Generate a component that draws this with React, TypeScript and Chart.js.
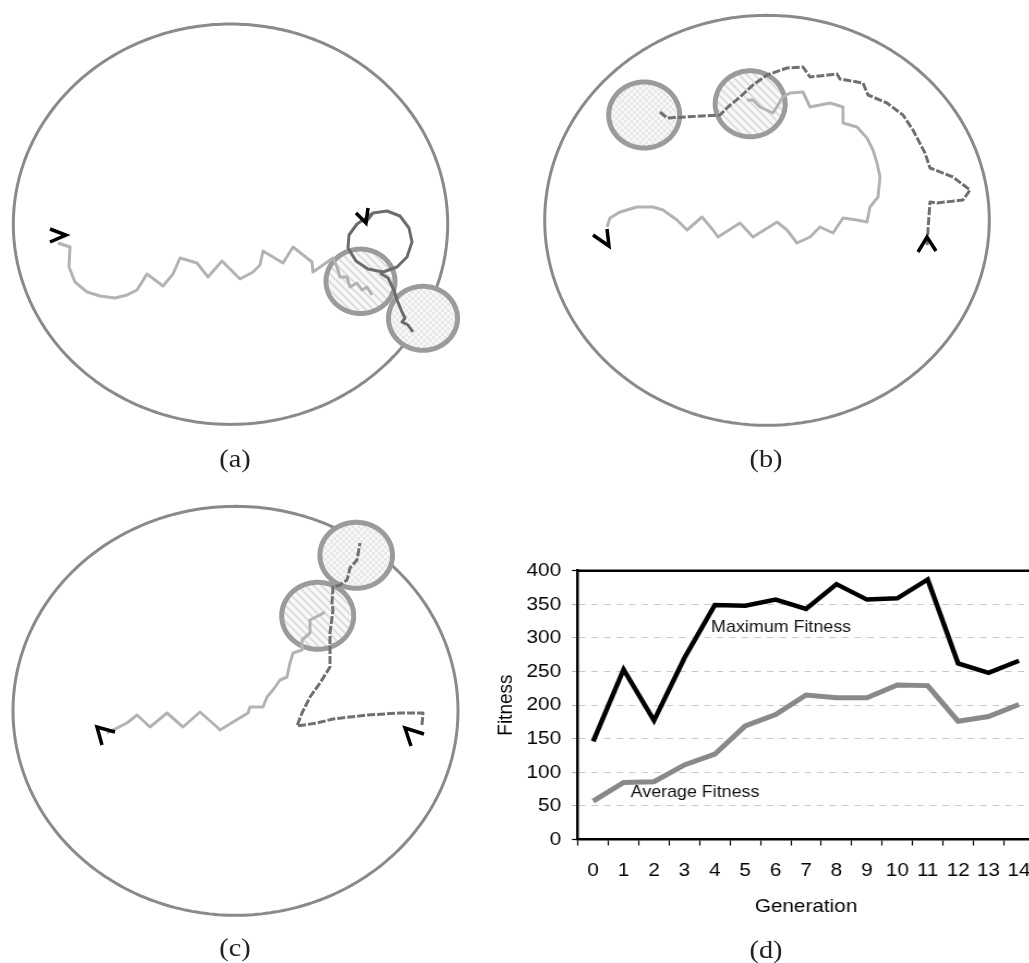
import React, { useEffect, useRef } from "react";
import { Chart, registerables } from "chart.js";

Chart.register(...registerables);

// ---------- Panel (d): fitness chart data ----------
const generations = ["0", "1", "2", "3", "4", "5", "6", "7", "8", "9", "10", "11", "12", "13", "14"];
const maxFitness = [146, 253, 177, 270, 349, 348, 357, 343, 380, 357, 359, 387, 262, 248, 266];
const avgFitness = [57, 85, 86, 111, 127, 169, 186, 215, 211, 211, 230, 229, 176, 183, 201];
const yMin = 0;
const yMax = 400;
const yStep = 50;
const seriesLabels = ["Maximum Fitness", "Average Fitness"];
const seriesLabelX = [6.18, 3.35];
const seriesLabelY = [315, 70];

// ---------- Panels (a)-(c): arena drawings (page coordinates) ----------
type Pt = [number, number];
// ellipse: [cx, cy, rx, ry]
const arenaA = [230.5, 224.2, 217.2, 200.2];
const arenaB = [767, 220.3, 222.3, 205];
const arenaC = [235.5, 710.8, 222.5, 204.5];

const hatchGoals = [
  [360.5, 281.3, 34.5, 32.2],
  [750.2, 103.8, 35, 33],
  [317.7, 615.8, 36, 33.5],
];
const checkGoals = [
  [423, 318.3, 34.5, 32],
  [644.2, 115, 35.5, 33],
  [356.2, 555.3, 36.3, 33],
];

const pathALight: Pt[] = [
  [58, 243], [70, 247], [69, 267], [75, 282], [87, 292], [100, 296], [115, 298], [127, 295],
  [137, 290], [147, 274], [163, 286], [173, 274], [180, 258], [197, 263], [208, 277], [222, 261],
  [240, 279], [253, 272], [260, 265], [263, 251], [283, 263], [293, 247], [312, 262], [313, 272],
  [333, 258], [337, 267], [340, 277], [347, 277], [350, 287], [357, 283], [362, 290], [367, 287], [372, 295],
];
const pathADarkLoop: Pt[] = [
  [366, 222], [373, 213], [387, 211], [400, 216], [409, 228], [412, 242], [407, 257], [397, 267],
  [383, 272], [368, 269], [356, 261], [348, 248], [349, 235], [357, 224], [366, 218], [373, 213],
];
const pathADarkExit: Pt[] = [
  [380, 273], [388, 278], [394, 290], [397, 300], [402, 312], [405, 318], [402, 322], [408, 325], [413, 332],
];

const pathBLight: Pt[] = [
  [607, 227], [610, 218], [620, 212], [637, 207], [653, 207], [663, 210], [677, 220], [687, 230],
  [702, 217], [713, 230], [718, 237], [740, 223], [753, 237], [777, 222], [787, 230], [797, 243],
  [810, 237], [820, 227], [833, 233], [843, 218], [857, 220], [867, 222], [870, 207], [878, 197],
  [880, 177], [877, 163], [873, 150], [867, 138], [857, 127], [843, 123], [843, 107], [830, 103],
  [810, 107], [803, 92], [790, 93], [783, 97], [773, 113], [760, 107], [753, 100], [747, 100],
];
const pathBDark: Pt[] = [
  [660, 112], [667, 118], [720, 115], [728, 107], [740, 97], [753, 85], [767, 75], [787, 68],
  [803, 67], [810, 77], [837, 74], [840, 79], [863, 83], [868, 95], [887, 103], [903, 115],
  [913, 130], [925, 153], [930, 168], [953, 177], [970, 190], [963, 200], [937, 203], [930, 202],
  [928, 230], [927, 247],
];

const pathCLight: Pt[] = [
  [107, 733], [117, 728], [127, 723], [137, 715], [150, 727], [167, 713], [183, 727], [200, 712],
  [217, 727], [220, 730], [233, 722], [248, 713], [250, 707], [263, 707], [267, 697], [273, 690],
  [280, 680], [287, 677], [290, 663], [293, 653], [302, 650], [302, 640], [310, 633], [310, 620],
  [320, 615], [325, 612],
];
const pathCDark: Pt[] = [
  [422, 725], [423, 713], [400, 713], [367, 715], [333, 719], [317, 723], [297, 726], [302, 713],
  [310, 697], [320, 683], [330, 667], [330, 633], [333, 610], [332, 603], [333, 587], [340, 585],
  [347, 580], [350, 568], [357, 560], [360, 543],
];

const markers: Pt[][] = [
  [[50, 229], [66, 235], [50, 242]],
  [[356, 213], [366, 223], [368, 208]],
  [[593, 235], [609, 246], [607, 229]],
  [[918, 252], [927, 237], [936, 251]],
  [[115, 732], [97, 727], [102, 745]],
  [[424, 734], [405, 728], [411, 746]],
];

const captions = ["(a)", "(b)", "(c)", "(d)"];
const captionX = [235, 766, 235, 766];
const captionY = [459, 459, 948, 950];

// ---------- helpers ----------
const toXY = (pts: Pt[]) => pts.map(([x, y]) => ({ x, y }));
function ellipse(e: number[], n = 160) {
  const [cx, cy, rx, ry] = e;
  const out: { x: number; y: number }[] = [];
  for (let i = 0; i <= n; i++) {
    const t = (i / n) * Math.PI * 2;
    out.push({ x: cx + rx * Math.cos(t), y: cy + ry * Math.sin(t) });
  }
  return out;
}
function makeHatch(): CanvasPattern | string {
  const c = document.createElement("canvas");
  c.width = 8;
  c.height = 8;
  const g = c.getContext("2d");
  if (!g) return "#f0f0f0";
  g.fillStyle = "#f8f8f8";
  g.fillRect(0, 0, 8, 8);
  g.strokeStyle = "#dedede";
  g.lineWidth = 2;
  g.beginPath();
  g.moveTo(-2, -2);
  g.lineTo(10, 10);
  g.moveTo(-2, 6);
  g.lineTo(2, 10);
  g.moveTo(6, -2);
  g.lineTo(10, 2);
  g.stroke();
  return g.createPattern(c, "repeat") || "#f0f0f0";
}
function makeChecker(): CanvasPattern | string {
  const c = document.createElement("canvas");
  c.width = 6;
  c.height = 6;
  const g = c.getContext("2d");
  if (!g) return "#f0f0f0";
  g.fillStyle = "#f8f8f8";
  g.fillRect(0, 0, 6, 6);
  g.fillStyle = "#e8e8e8";
  g.fillRect(0, 0, 3, 3);
  g.fillRect(3, 3, 3, 3);
  return g.createPattern(c, "repeat") || "#f0f0f0";
}

const SX = 1.09; // horizontal stretch of the figure
const FONT_FAMILY = "'Liberation Sans', Arial, sans-serif";
const AXIS_FONT = { family: FONT_FAMILY, size: 19 };

export default function App() {
  const panelRef = useRef<HTMLCanvasElement>(null);
  const fitRef = useRef<HTMLCanvasElement>(null);

  useEffect(() => {
    if (!panelRef.current || !fitRef.current) return;
    const hatch = makeHatch();
    const checker = makeChecker();

    const line = (data: any[], color: string, width: number, order: number, extra: any = {}) => ({
      data,
      showLine: true,
      borderColor: color,
      borderWidth: width,
      pointRadius: 0,
      pointHoverRadius: 0,
      pointBorderWidth: 0,
      fill: false,
      tension: 0,
      order,
      ...extra,
    });

    const panelDatasets: any[] = [];
    [arenaA, arenaB, arenaC].forEach((a) =>
      panelDatasets.push(line(ellipse(a), "#8a8a8a", 3, 10, { tension: 0.01 }))
    );
    hatchGoals.forEach((g) =>
      panelDatasets.push(line(ellipse(g), "#9b9b9b", 5, 5, { fill: "shape", backgroundColor: hatch, tension: 0.01 }))
    );
    checkGoals.forEach((g) =>
      panelDatasets.push(line(ellipse(g), "#9b9b9b", 5, 5, { fill: "shape", backgroundColor: checker, tension: 0.01 }))
    );
    [pathALight, pathBLight, pathCLight].forEach((p) =>
      panelDatasets.push(line(toXY(p), "#b3b3b3", 3, 3, { borderJoinStyle: "round" }))
    );
    panelDatasets.push(line(toXY(pathADarkLoop), "#6c6c6c", 3, 2, { borderJoinStyle: "round" }));
    panelDatasets.push(line(toXY(pathADarkExit), "#6c6c6c", 3, 2, { borderJoinStyle: "round" }));
    [pathBDark, pathCDark].forEach((p) =>
      panelDatasets.push(line(toXY(p), "#707070", 3, 2, { borderDash: [8, 2], borderJoinStyle: "round" }))
    );
    markers.forEach((m) => panelDatasets.push(line(toXY(m), "#000000", 3.5, 1, { borderJoinStyle: "miter" })));

    const panels = new Chart(panelRef.current, {
      type: "scatter",
      data: { datasets: panelDatasets },
      options: {
        animation: false,
        responsive: false,
        devicePixelRatio: 1,
        events: [],
        layout: { padding: 0, autoPadding: false },
        plugins: { legend: { display: false }, tooltip: { enabled: false } },
        scales: {
          x: { type: "linear", min: 0, max: 1029, display: false },
          y: { type: "linear", min: 0, max: 963, reverse: true, display: false },
        },
      },
    } as any);

    const boxPlugin = {
      id: "plotBox",
      afterDraw(chart: any) {
        const { ctx, chartArea } = chart;
        ctx.save();
        ctx.strokeStyle = "#000";
        ctx.lineWidth = 2.5;
        ctx.beginPath();
        ctx.moveTo(chartArea.left, chartArea.top);
        ctx.lineTo(chartArea.right, chartArea.top);
        ctx.lineTo(chartArea.right, chartArea.bottom);
        ctx.stroke();
        ctx.restore();
      },
    };
    const labelPlugin = {
      id: "seriesLabels",
      afterDatasetsDraw(chart: any) {
        const { ctx } = chart;
        const xs = chart.scales.x;
        const ys = chart.scales.y;
        ctx.save();
        ctx.fillStyle = "#111";
        ctx.font = "16.4px " + FONT_FAMILY;
        ctx.textAlign = "center";
        ctx.textBaseline = "middle";
        seriesLabels.forEach((t, i) => {
          ctx.fillText(t, xs.getPixelForValue(seriesLabelX[i]), ys.getPixelForValue(seriesLabelY[i]));
        });
        ctx.restore();
      },
    };

    const fit = new Chart(fitRef.current, {
      type: "line",
      data: {
        labels: generations,
        datasets: [
          { label: seriesLabels[0], data: maxFitness, borderColor: "#000", borderWidth: 4.5, pointRadius: 0, pointHoverRadius: 0, tension: 0 },
          { label: seriesLabels[1], data: avgFitness, borderColor: "#898989", borderWidth: 5, pointRadius: 0, pointHoverRadius: 0, tension: 0 },
        ],
      },
      options: {
        animation: false,
        responsive: false,
        devicePixelRatio: 1,
        events: [],
        layout: { padding: { top: 15.7, right: 10.8, left: 0, bottom: 0 }, autoPadding: false },
        plugins: { legend: { display: false }, tooltip: { enabled: false } },
        scales: {
          x: {
            type: "category",
            offset: true,
            afterFit: (s: any) => {
              s.height = 85.5;
            },
            grid: {
              display: true,
              drawOnChartArea: false,
              drawTicks: true,
              offset: true,
              tickLength: 6,
              tickColor: "#000",
              tickWidth: 1.2,
            },
            border: { display: true, color: "#000", width: 2.5 },
            ticks: {
              font: { family: FONT_FAMILY, size: 19, lineHeight: 2.6526 },
              color: "#000",
              padding: 0,
              maxRotation: 0,
              autoSkip: false,
            },
            title: { display: true, text: "Generation", font: AXIS_FONT, color: "#000", padding: { top: 0, bottom: 6.6 } },
          },
          y: {
            min: yMin,
            max: yMax,
            afterFit: (s: any) => {
              s.width = 80.7;
            },
            grid: {
              color: "#c8c8c8",
              lineWidth: 1,
              drawTicks: true,
              tickLength: 5.5,
              tickColor: (c: any) => (c.tick && (c.tick.value === yMin || c.tick.value === yMax) ? "#000" : "#b4b4b4"),
              tickWidth: 1.2,
            },
            border: { display: true, color: "#000", width: 2.5, dash: [6, 5.5] },
            ticks: {
              stepSize: yStep,
              font: { family: FONT_FAMILY, size: 19, lineHeight: 0.5 },
              color: "#000",
              padding: 10,
            },
            title: { display: true, text: "Fitness", font: AXIS_FONT, color: "#000", padding: { top: 3, bottom: 0 } },
          },
        },
      },
      plugins: [boxPlugin, labelPlugin],
    } as any);

    return () => {
      panels.destroy();
      fit.destroy();
    };
  }, []);

  return (
    <div
      style={{
        position: "absolute",
        left: 0,
        top: 0,
        width: 1029,
        height: 963,
        overflow: "hidden",
        background: "#fff",
      }}
    >
      <canvas
        ref={panelRef}
        width={1029}
        height={963}
        style={{ position: "absolute", left: 0, top: 0, width: 1029, height: 963 }}
      />
      <div
        style={{
          position: "absolute",
          left: 490,
          top: 555,
          width: 510,
          height: 370,
          transform: `scaleX(${SX})`,
          transformOrigin: "0 0",
        }}
      >
        <canvas ref={fitRef} width={510} height={370} style={{ display: "block", width: 510, height: 370 }} />
      </div>
      {captions.map((c, i) => (
        <div
          key={c}
          style={{
            position: "absolute",
            left: captionX[i] - 50,
            top: captionY[i] - 15,
            width: 100,
            height: 30,
            lineHeight: "30px",
            textAlign: "center",
            fontFamily: "'Liberation Serif', 'DejaVu Serif', serif",
            fontSize: 26,
            color: "#222",
            transform: `scaleX(${SX})`,
          }}
        >
          {c}
        </div>
      ))}
    </div>
  );
}
